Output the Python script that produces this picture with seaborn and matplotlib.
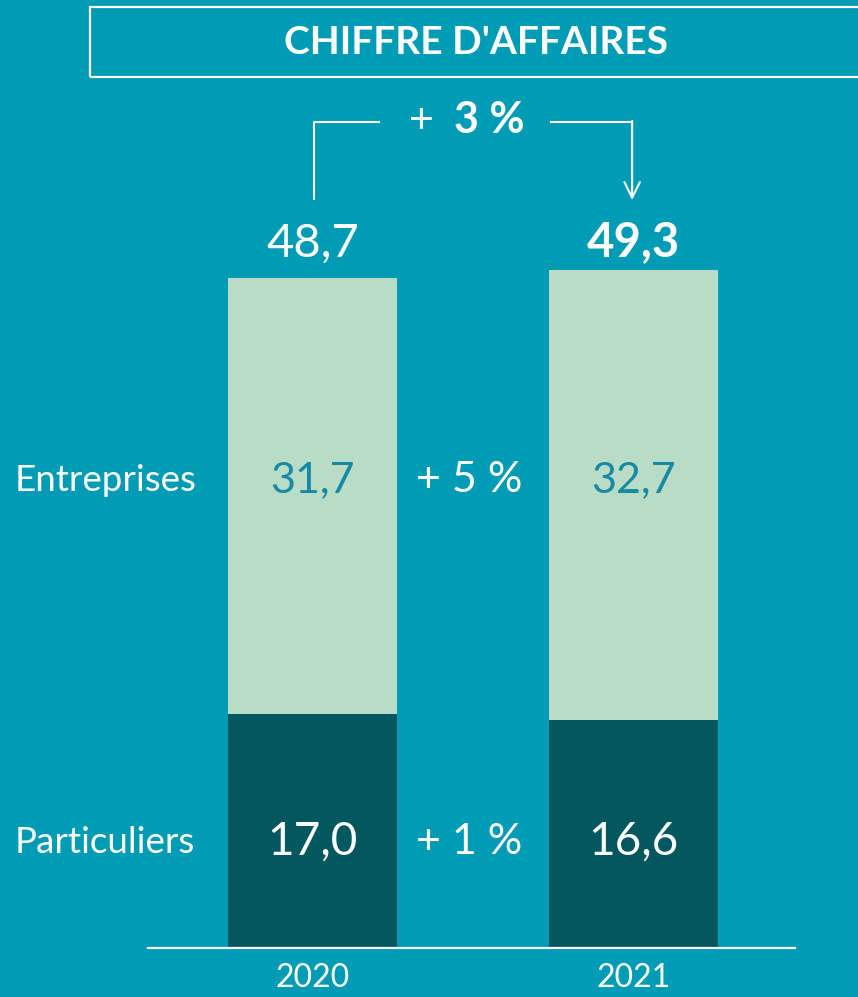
import matplotlib
matplotlib.use("Agg")
import matplotlib.pyplot as plt
import matplotlib.patches as mpatches
import numpy as np
import pandas as pd
import seaborn as sns

# data (millions)
years = ["2020", "2021"]
particuliers = [17.0, 16.6]
entreprises = [31.7, 32.7]
totals = [48.7, 49.3]
row_labels = ["Entreprises", "Particuliers"]
row_growth = ["+ 5 %", "+ 1 %"]
total_growth = "3 %"

BG = "#009BB5"
LIGHT = "#B8DCC5"
DARK = "#03575F"
TEAL_TXT = "#1689A3"
WHITE = "white"

sns.set_style("white")
plt.rcParams["font.family"] = ["Lato", "DejaVu Sans"]

df = pd.DataFrame({"year": years, "part": particuliers, "ent": entreprises, "total": totals})

fig = plt.figure(figsize=(8.58, 9.97), dpi=100, facecolor=BG)
# axes placed in pixel terms: x 148..795, y bottom 948 from top
W, H = 858, 997
px_per_unit = 13.75
top_px = 90
ax = fig.add_axes([148 / W, (H - 948) / H, (795 - 148) / W, (948 - top_px) / H])
ax.set_facecolor(BG)

bar_w = 0.527
# stacked: full total in light colour, particuliers drawn on top in dark
sns.barplot(data=df, x="year", y="total", color=LIGHT, width=bar_w, saturation=1,
            edgecolor="none", ax=ax)
sns.barplot(data=df, x="year", y="part", color=DARK, width=bar_w, saturation=1,
            edgecolor="none", ax=ax)

ax.set_xlim(-0.513, 1.505)
ax.set_ylim(0, (948 - top_px) / px_per_unit)
ax.set_xlabel("")
ax.set_ylabel("")
ax.set_yticks([])
ax.tick_params(axis="x", length=0, pad=11, labelsize=23, labelcolor=WHITE)
for s in ["top", "left", "right"]:
    ax.spines[s].set_visible(False)
ax.spines["bottom"].set_color(WHITE)
ax.spines["bottom"].set_linewidth(1.6)

ent_row = 34.0
part_row = 7.7

# segment values
for i in range(len(years)):
    ax.text(i, ent_row, f"{entreprises[i]:.1f}".replace(".", ","), ha="center", va="center",
            fontsize=31, color=TEAL_TXT)
    ax.text(i, part_row, f"{particuliers[i]:.1f}".replace(".", ","), ha="center", va="center",
            fontsize=33, color=WHITE)

# totals on top
ax.text(0, max(totals) + 1.0, f"{totals[0]:.1f}".replace(".", ","), ha="center", va="baseline",
        fontsize=34, color=WHITE)
ax.text(1, max(totals) + 1.0, f"{totals[1]:.1f}".replace(".", ","), ha="center", va="baseline",
        fontsize=34, color=WHITE, fontweight="bold")

# row labels on the left, growth in the middle
for lab, g, yy in zip(row_labels, row_growth, [ent_row, part_row]):
    ax.text(-0.928, yy, lab, ha="left", va="center", fontsize=26.5, color=WHITE, clip_on=False)
    ax.text(0.49, yy, g, ha="center", va="center", fontsize=31, color=WHITE)

# +3% bracket arrow
y_line = 60.1
y_low = 54.4
ax.plot([0.005, 0.005, 0.21], [y_low, y_line, y_line], color=WHITE, lw=1.5, solid_capstyle="butt")
ax.plot([0.74, 0.997], [y_line, y_line], color=WHITE, lw=1.5, solid_capstyle="butt")
ax.annotate("", xy=(0.997, y_low), xytext=(0.997, y_line + 0.05),
            arrowprops=dict(arrowstyle="->", color=WHITE, lw=1.5, mutation_scale=28,
                            shrinkA=0, shrinkB=0))
ax.text(0.339, 59.3, "+", ha="center", va="baseline", fontsize=31, color=WHITE)
ax.text(0.441, 59.3, total_growth, ha="left", va="baseline", fontsize=31, color=WHITE,
        fontweight="bold")

# title box
fig.patches.append(mpatches.Rectangle((90 / W, (H - 77) / H), 1.0, 70 / H, transform=fig.transFigure,
                                      facecolor="none", edgecolor=WHITE, lw=1.6))
fig.text(476 / W, (H - 43) / H, "CHIFFRE D'AFFAIRES", ha="center", va="center",
         fontsize=28, fontweight="bold", color=WHITE)

fig.savefig("out.png", dpi=100, facecolor=BG)
